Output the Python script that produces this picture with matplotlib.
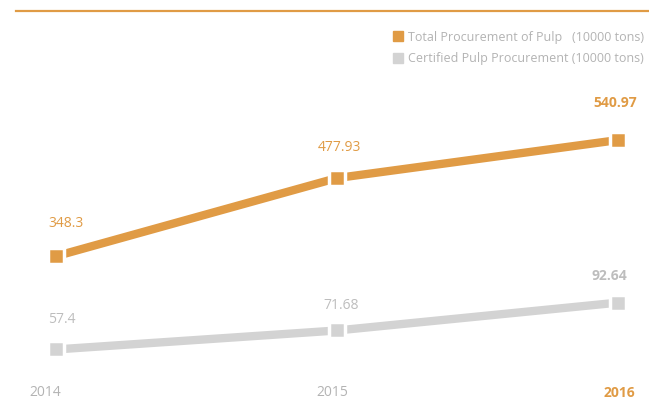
import matplotlib
matplotlib.use("Agg")
import matplotlib.pyplot as plt
from matplotlib.lines import Line2D
from matplotlib.transforms import blended_transform_factory

years = [2014, 2015, 2016]
total_pulp = [348.3, 477.93, 540.97]
certified_pulp = [57.4, 71.68, 92.64]
total_labels = ["348.3", "477.93", "540.97"]
certified_labels = ["57.4", "71.68", "92.64"]
legend_labels = ["Total Procurement of Pulp   (10000 tons)",
                 "Certified Pulp Procurement (10000 tons)"]

ORANGE = "#E09B45"
GREY = "#D3D3D3"
TXT_GREY = "#B3B3B3"
plt.rcParams['font.family'] = ['Open Sans', 'DejaVu Sans']

fig = plt.figure(figsize=(6.49, 4.02), dpi=100)
ax = fig.add_axes([0, 0, 1, 1])
ax2 = ax.twinx()
for a in (ax, ax2):
    a.set_xlim(2013.8007, 2016.1103)
    a.axis('off')
ax.set_ylim(108.0, 775.0)
ax2.set_ylim(18.59, 321.2)

ax.plot(years, total_pulp, color=ORANGE, lw=6, marker='s', ms=11,
        mfc=ORANGE, mec='white', mew=2.5, solid_capstyle='butt', zorder=3)
ax2.plot(years, certified_pulp, color=GREY, lw=6, marker='s', ms=11,
         mfc=GREY, mec='white', mew=2.5, solid_capstyle='butt', zorder=3)

off_total = [(7, 19), (2, 17), (-2, 22)]
off_cert = [(4, 17), (3, 13), (-6, 15)]
for i, (x, v) in enumerate(zip(years, total_pulp)):
    ax.annotate(total_labels[i], (x, v), xytext=off_total[i],
                textcoords='offset points', ha='center', va='bottom',
                color=ORANGE, fontsize=10,
                fontweight='bold' if i == 2 else 'normal')
for i, (x, v) in enumerate(zip(years, certified_pulp)):
    ax2.annotate(certified_labels[i], (x, v), xytext=off_cert[i],
                 textcoords='offset points', ha='center', va='bottom',
                 color="#BDBDBD", fontsize=10,
                 fontweight='bold' if i == 2 else 'normal')

# year labels
tr = blended_transform_factory(ax.transData, fig.transFigure)
year_dx = [-0.04, -0.015, 0.005]
for i, y in enumerate(years):
    ax.text(y + year_dx[i], 1 - 393 / 402, str(y), transform=tr,
            ha='center', va='center', fontsize=10,
            color=ORANGE if i == 2 else TXT_GREY,
            fontweight='bold' if i == 2 else 'normal')

# top rule
fig.add_artist(Line2D([16 / 649, 1], [1 - 12 / 402, 1 - 12 / 402],
                      transform=fig.transFigure, color=ORANGE, lw=1.6))

# legend
for j, (lab, col) in enumerate(zip(legend_labels, [ORANGE, GREY])):
    yy = 1 - (37 + 22 * j) / 402
    fig.add_artist(Line2D([398 / 649], [yy], transform=fig.transFigure,
                          marker='s', ms=7.5, color=col, lw=0))
    fig.text(408 / 649, yy, lab, ha='left', va='center', fontsize=9.0,
             color=TXT_GREY)

fig.savefig("out.png", dpi=100)
